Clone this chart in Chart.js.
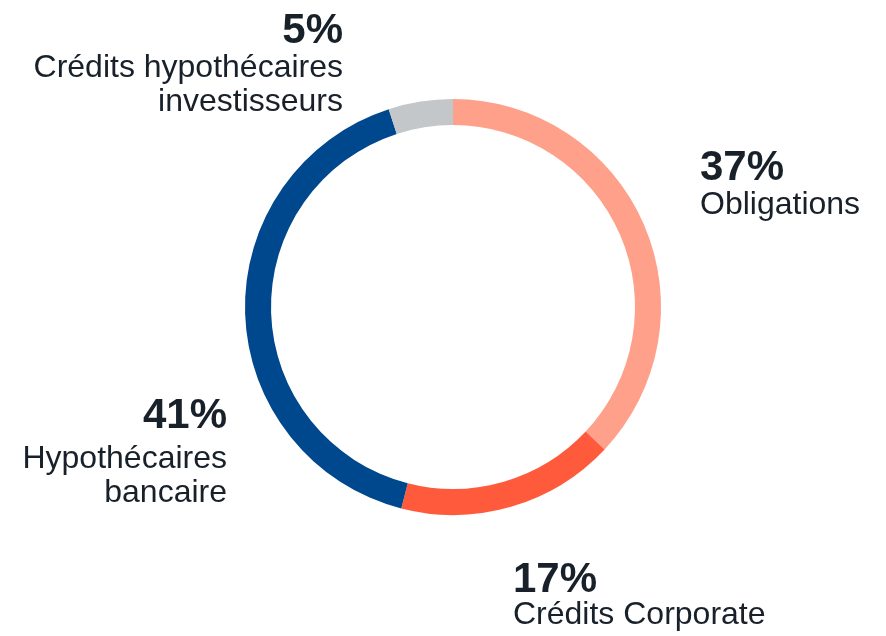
<!DOCTYPE html>
<html>
<head>
<meta charset="utf-8">
<script src="https://cdn.jsdelivr.net/npm/chart.js@4.4.0/dist/chart.umd.min.js"></script>
<style>
  html, body { margin: 0; padding: 0; background: #ffffff; }
  #wrap { width: 886px; height: 636px; position: relative; }
</style>
</head>
<body>
<div id="wrap"><canvas id="c" width="886" height="636"></canvas></div>
<script>
// ---- data ----
const categories = ["Obligations", "Crédits Corporate", "Hypothécaires bancaire", "Crédits hypothécaires investisseurs"];
const labelLines = [["Obligations"], ["Crédits Corporate"], ["Hypothécaires", "bancaire"], ["Crédits hypothécaires", "investisseurs"]];
const values = [37, 17, 41, 5];
const pctLabels = ["37%", "17%", "41%", "5%"];

// ---- styles / layout (not data) ----
const colors = ["#FFA08A", "#FF5A3C", "#00488D", "#C3C7CA"];
const textColor = "#18202A";
// label anchor offsets relative to the doughnut centre
const labelLayout = [
  { dx: 247, dy: -127, align: "left",  gap1: 34, gap: 33 },
  { dx: 60,  dy: 285,  align: "left",  gap1: 32, gap: 33 },
  { dx: -226, dy: 121, align: "right", gap1: 40, gap: 34 },
  { dx: -110, dy: -264, align: "right", gap1: 34, gap: 34 }
];

const labelPlugin = {
  id: "sideLabels",
  afterDraw(chart) {
    const ctx = chart.ctx;
    const arc = chart.getDatasetMeta(0).data[0];
    const cx = arc.x, cy = arc.y;
    ctx.save();
    ctx.fillStyle = textColor;
    ctx.textBaseline = "alphabetic";
    labelLayout.forEach((L, i) => {
      ctx.textAlign = L.align;
      const x = cx + L.dx;
      let y = cy + L.dy;
      ctx.font = "bold 42px 'Liberation Sans', Arial, sans-serif";
      ctx.fillText(pctLabels[i], x, y);
      ctx.font = "32px 'Liberation Sans', Arial, sans-serif";
      y += L.gap1;
      labelLines[i].forEach((line, j) => {
        ctx.fillText(line, x, y + j * L.gap);
      });
    });
    ctx.restore();
  }
};

new Chart(document.getElementById("c"), {
  type: "doughnut",
  data: {
    labels: categories,
    datasets: [{
      data: values,
      backgroundColor: colors,
      borderWidth: 0,
      hoverOffset: 0
    }]
  },
  options: {
    responsive: false,
    animation: false,
    cutout: "87.5%",
    layout: { padding: { left: 245, right: 225, top: 99, bottom: 121 } },
    plugins: {
      legend: { display: false },
      tooltip: { enabled: false }
    }
  },
  plugins: [labelPlugin]
});
</script>
</body>
</html>
